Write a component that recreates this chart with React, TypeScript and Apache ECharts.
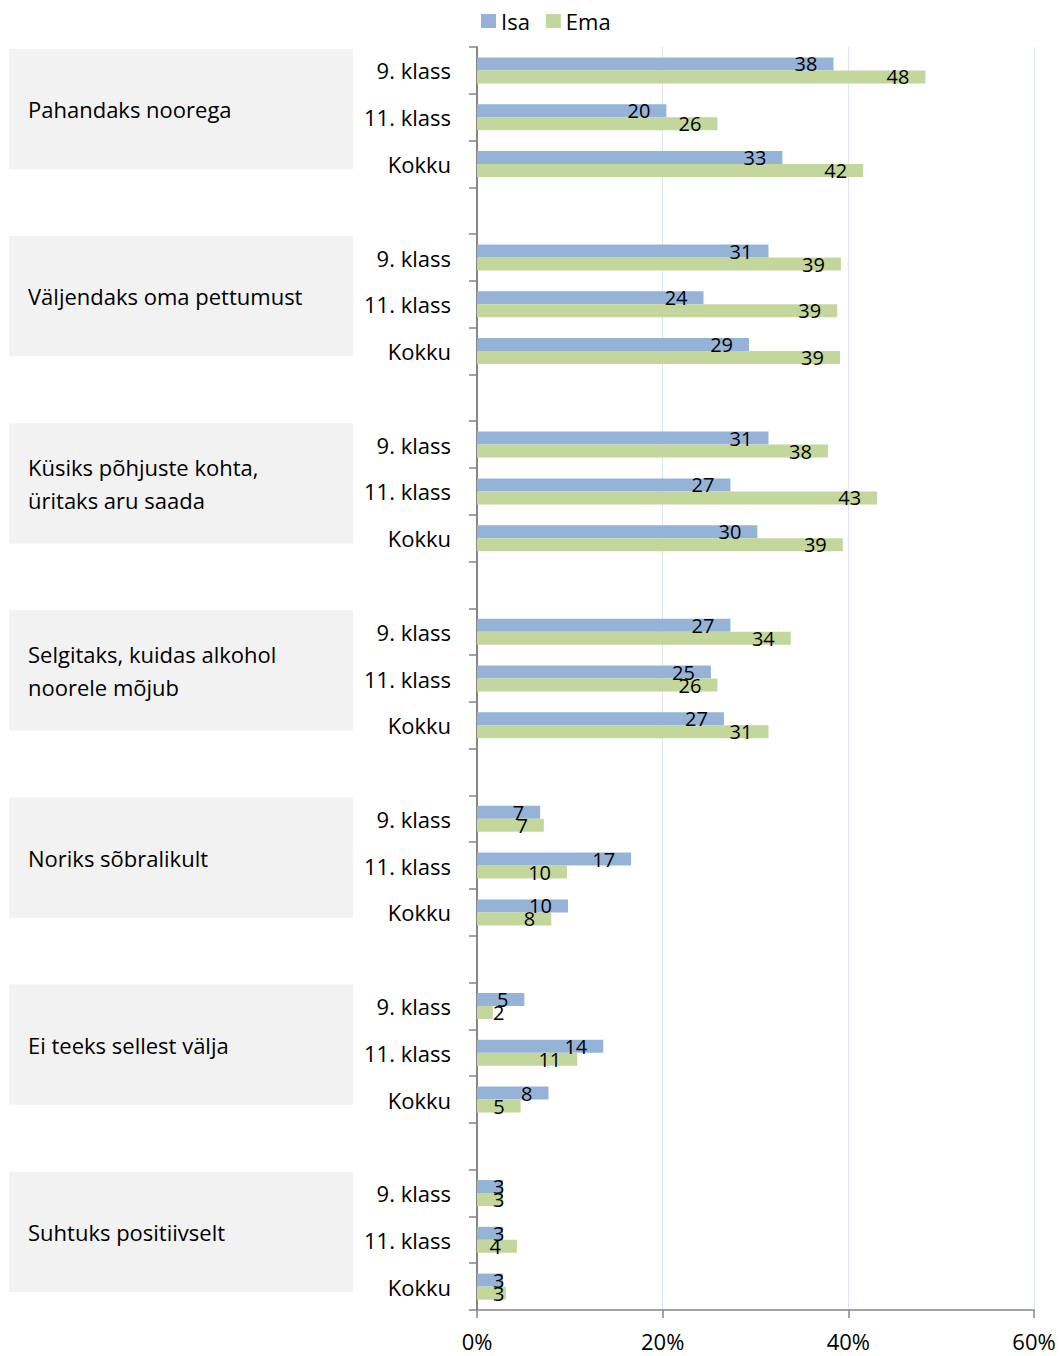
import React, { useEffect, useRef } from "react";
import * as echarts from "echarts";

const groups = [
  "Pahandaks noorega",
  "Väljendaks oma pettumust",
  "Küsiks põhjuste kohta,\nüritaks aru saada",
  "Selgitaks, kuidas alkohol\nnoorele mõjub",
  "Noriks sõbralikult",
  "Ei teeks sellest välja",
  "Suhtuks positiivselt",
];
const classes = ["9. klass", "11. klass", "Kokku"];

// values per group: [9. klass, 11. klass, Kokku]
const isa = [
  [38.4, 20.4, 32.9],
  [31.4, 24.4, 29.3],
  [31.4, 27.3, 30.2],
  [27.3, 25.2, 26.6],
  [6.8, 16.6, 9.8],
  [5.1, 13.6, 7.7],
  [2.8, 2.8, 2.8],
];
const ema = [
  [48.3, 25.9, 41.6],
  [39.2, 38.8, 39.1],
  [37.8, 43.1, 39.4],
  [33.8, 25.9, 31.4],
  [7.2, 9.7, 8.0],
  [1.7, 10.8, 4.7],
  [2.8, 4.3, 3.1],
];
const xTicks = [0, 20, 40, 60];

const FONT = "Open Sans";

export default function App() {
  const ref = useRef<HTMLDivElement>(null);
  useEffect(() => {
    if (!ref.current) return;
    document.body.style.margin = "0";
    const chart = echarts.init(ref.current, null, { renderer: "svg" });

    const cats: string[] = [];
    const labels: string[] = [];
    const isaData: any[] = [];
    const emaData: any[] = [];
    const firstRow: number[] = [];
    const mkItem = (v: number) => ({
      value: v,
      label: v < 4 ? { position: "insideLeft", distance: 16 } : { position: "insideRight", distance: 16 },
    });
    groups.forEach((g, gi) => {
      firstRow.push(cats.length);
      classes.forEach((c, ci) => {
        cats.push("r" + cats.length);
        labels.push(c);
        isaData.push(mkItem(isa[gi][ci]));
        emaData.push(mkItem(ema[gi][ci]));
      });
      if (gi < groups.length - 1) {
        cats.push("r" + cats.length);
        labels.push("");
        isaData.push("-");
        emaData.push("-");
      }
    });

    const labelStyle = {
      show: true,
      color: "#000",
      fontFamily: FONT,
      fontSize: 20,
      formatter: (p: any) => String(Math.round(p.value)),
    };

    chart.setOption({
      animation: false,
      textStyle: { fontFamily: FONT },
      legend: {
        left: 476,
        top: 2,
        itemWidth: 15,
        itemHeight: 14,
        itemGap: 16,
        icon: "rect",
        textStyle: { fontFamily: FONT, fontSize: 22, color: "#000", lineHeight: 28 },
        data: ["Isa", "Ema"],
      },
      grid: { left: 477, right: 27, top: 47, bottom: 46 },
      xAxis: {
        type: "value",
        min: xTicks[0],
        max: xTicks[xTicks.length - 1],
        interval: 20,
        axisLine: { show: true, lineStyle: { color: "#868686", width: 1.5 } },
        axisTick: { show: true, length: 8, lineStyle: { color: "#868686", width: 1.5 } },
        splitLine: { show: true, lineStyle: { color: "#DCE6F2", width: 1 } },
        axisLabel: {
          color: "#000",
          fontFamily: FONT,
          fontSize: 22,
          margin: 20,
          formatter: (v: number) => v + "%",
        },
      },
      yAxis: {
        type: "category",
        inverse: true,
        data: cats,
        axisLine: { show: true, lineStyle: { color: "#868686", width: 2 } },
        axisTick: { show: true, length: 8, lineStyle: { color: "#868686", width: 1.5 } },
        axisLabel: {
          color: "#000",
          fontFamily: FONT,
          fontSize: 22,
          lineHeight: 22,
          margin: 26,
          interval: 0,
          verticalAlign: "middle",
          padding: [0, 0, 4, 0],
          formatter: (v: string) => labels[cats.indexOf(v)],
        },
      },
      series: [
        {
          name: "Isa",
          type: "bar",
          data: isaData,
          barWidth: 13,
          barGap: "0%",
          itemStyle: { color: "#95B3D7" },
          label: labelStyle,
        },
        {
          name: "Ema",
          type: "bar",
          data: emaData,
          barWidth: 13,
          barGap: "0%",
          itemStyle: { color: "#C3D69B" },
          label: labelStyle,
        },
      ],
    });

    const rowH =
      (chart.convertToPixel({ yAxisIndex: 0 }, 1) as number) -
      (chart.convertToPixel({ yAxisIndex: 0 }, 0) as number);
    const graphics: any[] = [];
    groups.forEach((g, gi) => {
      const c0 = chart.convertToPixel({ yAxisIndex: 0 }, firstRow[gi]) as number;
      const top = c0 - rowH / 2 + 2;
      const h = rowH * 2.57;
      graphics.push({
        type: "rect",
        shape: { x: 9, y: top, width: 344, height: h },
        style: { fill: "#F2F2F2" },
        z: -1,
      });
      graphics.push({
        type: "text",
        x: 28,
        y: top + h / 2,
        style: {
          text: g,
          fontFamily: FONT,
          fontSize: 22,
          lineHeight: 33,
          fill: "#000",
          verticalAlign: "middle",
          align: "left",
        },
      });
    });
    chart.setOption({ graphic: graphics });

    return () => chart.dispose();
  }, []);
  return (
    <div
      ref={ref}
      style={{ position: "absolute", left: 0, top: 0, width: 1061, height: 1356 }}
    />
  );
}
